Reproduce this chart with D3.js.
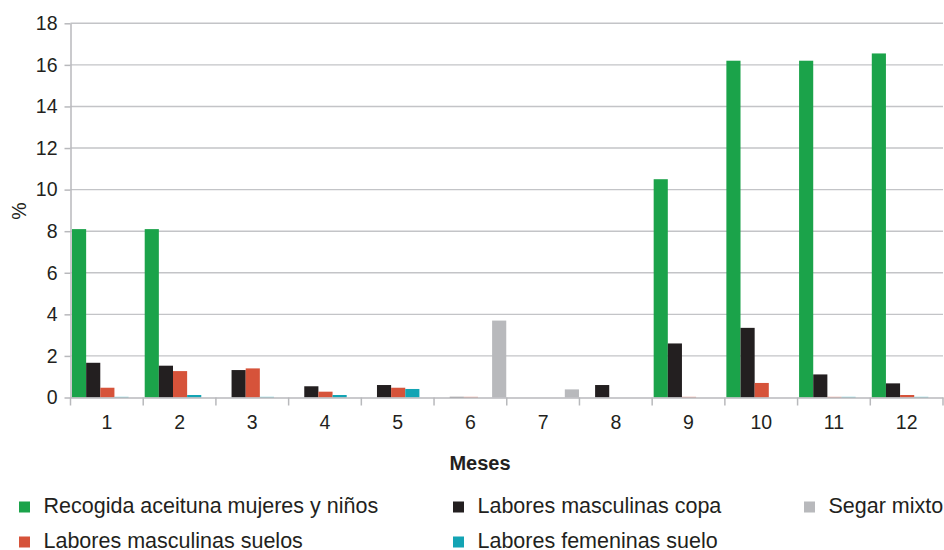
<!DOCTYPE html>
<meta charset="utf-8">
<style>
body { margin: 0; background: #fff; }
svg text { font-family: "Liberation Sans", Arial, sans-serif; fill: #231f20; }
</style>
<body>
<svg width="944" height="550"></svg>
<script src="https://cdn.jsdelivr.net/npm/d3@7"></script>
<script>

var months = ["1","2","3","4","5","6","7","8","9","10","11","12"];
var seriesNames = ["Recogida aceituna mujeres y niños","Labores masculinas copa","Labores masculinas suelos","Labores femeninas suelo","Segar mixto"];
var colors = ["#1ba34a","#231f20","#d6533a","#13a4b4","#b8b9bc"];

var recogida   = [8.1, 8.1, 0, 0, 0, 0, 0, 0, 10.5, 16.2, 16.2, 16.55];
var copa       = [1.67, 1.53, 1.32, 0.54, 0.6, 0.03, 0, 0.6, 2.6, 3.35, 1.11, 0.68];
var suelos     = [0.47, 1.27, 1.4, 0.28, 0.47, 0.03, 0, 0, 0.03, 0.7, 0.03, 0.12];
var femeninas  = [0.03, 0.12, 0.03, 0.12, 0.41, 0, 0, 0, 0, 0, 0.03, 0.03];
var segar      = [0, 0, 0, 0, 0, 3.7, 0.39, 0, 0, 0, 0, 0];
var yTicks = [0, 2, 4, 6, 8, 10, 12, 14, 16, 18];

var values = [recogida, copa, suelos, femeninas, segar];

var svg = d3.select("svg");
var mLeft = 70.5, mRight = 943, mTop = 23.3, mBottom = 397.5;

var x = d3.scaleBand().domain(months).range([mLeft, mRight]).padding(0);
var xs = d3.scaleBand().domain(d3.range(5)).range([1.5, x.bandwidth() - 0.5]).padding(0);
var y = d3.scaleLinear().domain([0, 18]).range([mBottom, mTop]);

// grid
svg.append("g").selectAll("line").data(yTicks.slice(1)).enter().append("line")
  .attr("x1", mLeft).attr("x2", mRight)
  .attr("y1", d => y(d)).attr("y2", d => y(d))
  .attr("stroke", "#c3c4c7").attr("stroke-width", 1.4);

// bars
svg.append("g").selectAll("g").data(values).enter().append("g")
  .attr("fill", (d, i) => colors[i])
  .each(function(vals, si) {
    d3.select(this).selectAll("rect").data(vals).enter().append("rect")
      .attr("x", (d, i) => x(months[i]) + xs(si))
      .attr("width", xs.bandwidth())
      .attr("y", d => y(d))
      .attr("height", d => mBottom - y(d));
  });

// y axis
var yAxis = svg.append("g")
  .attr("transform", "translate(" + mLeft + ",0)")
  .call(d3.axisLeft(y).tickValues(yTicks).tickSize(6).tickPadding(7).tickSizeOuter(0));
yAxis.selectAll("line, path").attr("stroke", "#b8b9bc").attr("stroke-width", 1.5);
yAxis.selectAll("text").attr("font-size", 19.5).attr("fill", "#231f20")
  .style("font-family", "Liberation Sans, Arial, sans-serif");

// x axis
var xAxis = svg.append("g")
  .attr("transform", "translate(0," + mBottom + ")")
  .call(d3.axisBottom(x).tickSize(0).tickPadding(18).tickSizeOuter(0));
xAxis.select("path").attr("stroke", "#b8b9bc").attr("stroke-width", 1.5);
xAxis.selectAll("text").attr("font-size", 19.5).attr("fill", "#231f20")
  .style("font-family", "Liberation Sans, Arial, sans-serif");
svg.append("g").selectAll("line").data(d3.range(13)).enter().append("line")
  .attr("x1", d => mLeft + d * x.bandwidth()).attr("x2", d => mLeft + d * x.bandwidth())
  .attr("y1", mBottom).attr("y2", mBottom + 8)
  .attr("stroke", "#b8b9bc").attr("stroke-width", 1.5);

// axis titles
svg.append("text").attr("x", 480).attr("y", 470)
  .attr("text-anchor", "middle").attr("font-size", 20).attr("font-weight", "bold")
  .text("Meses");
svg.append("text").attr("transform", "translate(26,211) rotate(-90)")
  .attr("text-anchor", "middle").attr("font-size", 19.5).text("%");

// legend
var legendPos = [[19, 507], [453, 507], [804, 507], [19, 542], [453, 542]];
var legendOrder = [0, 1, 4, 2, 3];
var lg = svg.append("g").selectAll("g").data(legendOrder).enter().append("g")
  .attr("transform", (d, i) => "translate(" + legendPos[i][0] + "," + legendPos[i][1] + ")");
lg.append("rect").attr("x", 0).attr("y", -5.5).attr("width", 11).attr("height", 11)
  .attr("fill", d => colors[d]);
lg.append("text").attr("x", 24.5).attr("y", 5.5).attr("font-size", 21.5).text(d => seriesNames[d]);

</script>
</body>
